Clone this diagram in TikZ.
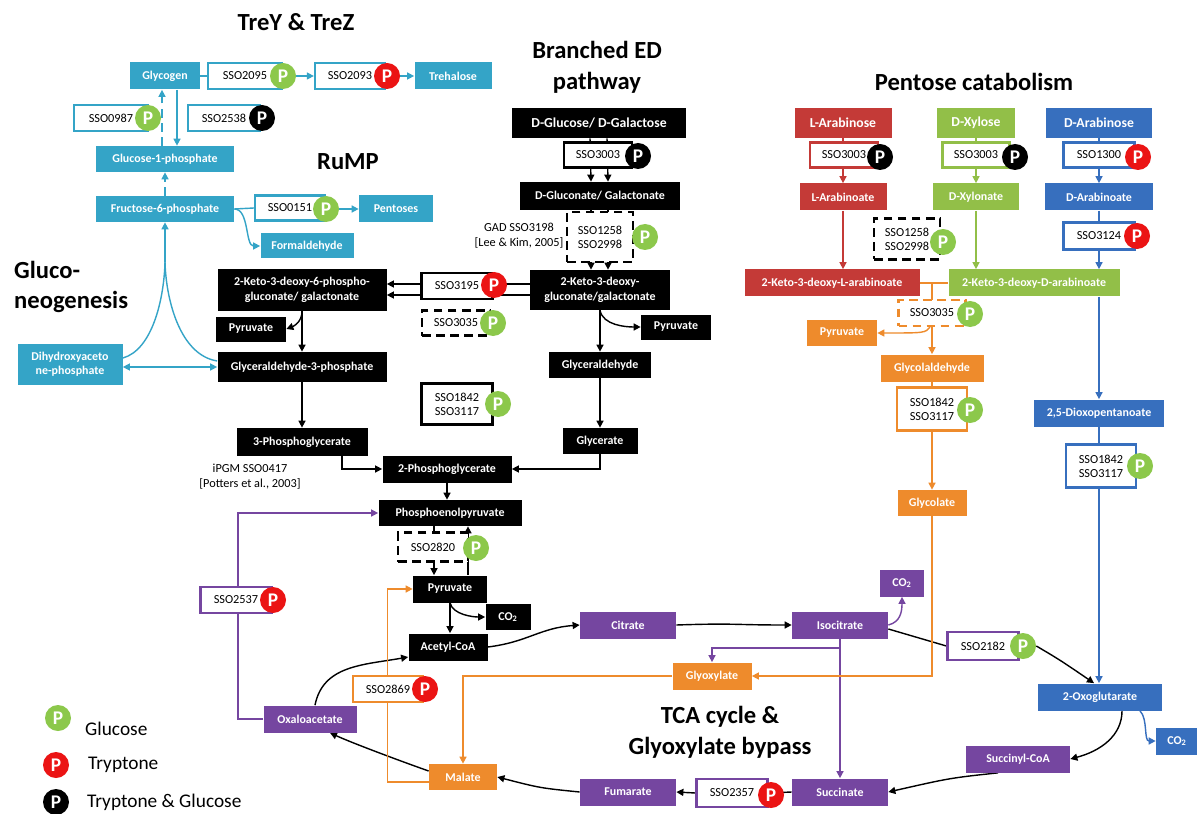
\documentclass[tikz,border=0pt]{standalone}
\usepackage{fontspec}
\setmainfont{Carlito}
\usetikzlibrary{calc}
\usetikzlibrary{arrows.meta}
\usetikzlibrary{backgrounds}

\definecolor{cTeal}{RGB}{52,164,199}
\definecolor{cRed}{RGB}{196,58,55}
\definecolor{cGreen}{RGB}{146,191,72}
\definecolor{cBlue}{RGB}{55,111,190}
\definecolor{cOrange}{RGB}{238,139,44}
\definecolor{cPurple}{RGB}{117,70,160}
\definecolor{cPgreen}{RGB}{140,200,75}
\definecolor{cPred}{RGB}{235,20,20}

\tikzset{
  bw/.style={minimum width=#1*0.2mm},
  bh/.style={minimum height=#1*0.2mm},
  box/.style={rectangle, text=white, font=\bfseries\fontsize{6.8}{8.5}\selectfont,
    align=center, inner sep=1pt, minimum height=27*0.2mm},
  big/.style={font=\bfseries\fontsize{7.8}{9}\selectfont},
  tealbox/.style={box, fill=cTeal},
  blackbox/.style={box, fill=black},
  redbox/.style={box, fill=cRed},
  greenbox/.style={box, fill=cGreen},
  bluebox/.style={box, fill=cBlue},
  orangebox/.style={box, fill=cOrange},
  purplebox/.style={box, fill=cPurple},
  enzbox/.style={rectangle, draw=black, fill=white, line width=1.3pt,
    font=\fontsize{7}{8}\selectfont, align=center, inner sep=1pt,
    minimum height=26*0.2mm},
  dbox/.style={dash pattern=on 5pt off 3pt},
  pcirc/.style={circle, text=white, font=\bfseries\fontsize{11}{11}\selectfont,
    inner sep=0pt, minimum size=5.2mm},
  pglc/.style={pcirc, fill=cPgreen},
  ptry/.style={pcirc, fill=cPred},
  pboth/.style={pcirc, fill=black},
  ttl/.style={font=\bfseries\fontsize{14}{17.5}\selectfont, align=center},
  note/.style={font=\fontsize{7}{8.5}\selectfont, align=center},
  legtxt/.style={font=\fontsize{11}{13}\selectfont, anchor=west},
  arr/.style={-{Triangle[length=4pt,width=4pt]}},
  dbl/.style={{Triangle[length=4pt,width=4pt]}-{Triangle[length=4pt,width=4pt]}},
  conn/.style={line width=0.8pt},
  tealline/.style={conn, draw=cTeal},
  blackline/.style={conn, draw=black},
  redline/.style={conn, draw=cRed},
  greenline/.style={conn, draw=cGreen},
  blueline/.style={conn, draw=cBlue},
  orangeline/.style={conn, draw=cOrange},
  purpleline/.style={conn, draw=cPurple},
}

\begin{document}
\begin{tikzpicture}[x=0.2mm, y=-0.2mm]
  \useasboundingbox (0,0) rectangle (1197,814);

  % titles
  \node[ttl] (tTre) at (296,22) {TreY \& TreZ};
  \node[ttl] (tED) at (597,67) {Branched ED\\pathway};
  \node[ttl] (tPen) at (974,82) {Pentose catabolism};
  \node[ttl] (tRuMP) at (348,162) {RuMP};
  \node[ttl, align=left, anchor=west] (tGluc) at (8,287) {Gluco-\\neogenesis};
  \node[ttl] (tTCA) at (720,732) {TCA cycle \&\\Glyoxylate bypass};

  % glycogen, trehalose, RuMP (teal)
  \node[tealbox, bw=70] (glycogen) at (165,76) {Glycogen};
  \node[enzbox, draw=cTeal, bw=74] (e2095) at (245,76) {SSO2095};
  \node[pglc] (p2095) at (283,76) {P};
  \node[enzbox, draw=cTeal, bw=70] (e2093) at (350,76) {SSO2093};
  \node[ptry] (p2093) at (387,76) {P};
  \node[tealbox, bw=77] (trehalose) at (453,76) {Trehalose};
  \node[enzbox, draw=cTeal, bw=74] (e0987) at (111,118) {SSO0987};
  \node[pglc] (p0987) at (148,118) {P};
  \node[enzbox, draw=cTeal, bw=72] (e2538) at (224,118) {SSO2538};
  \node[pboth] (p2538) at (262,118) {P};
  \node[tealbox, bw=138, bh=26] (g1p) at (165,159) {Glucose-1-phosphate};
  \node[tealbox, bw=138, bh=26] (f6p) at (165,209) {Fructose-6-phosphate};
  \node[enzbox, draw=cTeal, bw=70, bh=25] (e0151) at (290,208) {SSO0151};
  \node[pglc] (p0151) at (326,209) {P};
  \node[tealbox, bw=74] (pentoses) at (396,209) {Pentoses};
  \node[tealbox, bw=93, bh=25] (formald) at (307,246) {Formaldehyde};
  \node[tealbox, bw=105, bh=41, font=\bfseries\fontsize{6.8}{8}\selectfont] (dhap) at (70,364) {Dihydroxyaceto\\ne-phosphate};

  % branched ED pathway (black)
  \node[blackbox, big, bw=174, bh=30] (dglc) at (599,123) {D-Glucose/ D-Galactose};
  \node[enzbox, bw=68, bh=25] (e3003a) at (598,155) {SSO3003};
  \node[pboth] (p3003a) at (638,156) {P};
  \node[blackbox, bw=160, bh=28] (dglcn) at (600,196) {D-Gluconate/ Galactonate};
  \node[enzbox, dbox, bw=66, bh=50] (e1258a) at (600,237) {SSO1258\\SSO2998};
  \node[pglc] (p1258a) at (645,237) {P};
  \node[note] (gad) at (519,236) {GAD SSO3198\\{[Lee \& Kim, 2005]}};
  \node[blackbox, bw=140, bh=40] (kdg) at (600,290) {2-Keto-3-deoxy-\\gluconate/galactonate};
  \node[enzbox, bw=71] (e3195) at (457,286) {SSO3195};
  \node[ptry] (p3195) at (494,285) {P};
  \node[enzbox, dbox, bw=68, bh=25] (e3035a) at (456,323) {SSO3035};
  \node[pglc] (p3035a) at (493,323) {P};
  \node[blackbox, bw=169, bh=42] (kdpg) at (302,290) {2-Keto-3-deoxy-6-phospho-\\gluconate/ galactonate};
  \node[blackbox, bw=70, bh=25] (pyrA) at (251,329) {Pyruvate};
  \node[blackbox, bw=169, bh=30] (gap) at (302,367) {Glyceraldehyde-3-phosphate};
  \node[enzbox, bw=71, bh=41] (e1842a) at (457,404) {SSO1842\\SSO3117};
  \node[pglc] (p1842a) at (498,404) {P};
  \node[blackbox, bw=70, bh=25] (pyrB) at (676,327) {Pyruvate};
  \node[blackbox, bw=102, bh=26] (glyald) at (600,365) {Glyceraldehyde};
  \node[blackbox, bw=75, bh=26] (glycerate) at (600,441) {Glycerate};
  \node[blackbox, bw=131, bh=28] (pg3) at (302,442) {3-Phosphoglycerate};
  \node[note] (ipgm) at (250,477) {iPGM SSO0417\\{[Potters et al., 2003]}};
  \node[blackbox, bw=129] (pg2) at (447,469) {2-Phosphoglycerate};
  \node[blackbox, bw=143, bh=26] (pep) at (450,513) {Phosphoenolpyruvate};
  \node[enzbox, dbox, bw=70, bh=29] (e2820) at (433,547) {SSO2820};
  \node[pglc] (p2820) at (476,548) {P};
  \node[blackbox, bw=74] (pyrC) at (450,589) {Pyruvate};
  \node[blackbox, bw=45, bh=26] (co2a) at (508,617) {CO\textsubscript{2}};
  \node[blackbox, bw=79] (acoa) at (448,647) {Acetyl-CoA};

  % TCA cycle and glyoxylate bypass
  \node[purplebox, bw=96] (citrate) at (628,625) {Citrate};
  \node[purplebox, bw=96] (isocit) at (840,625) {Isocitrate};
  \node[purplebox, bw=44] (co2b) at (902,583) {CO\textsubscript{2}};
  \node[enzbox, draw=cPurple, bw=71, bh=28] (e2182) at (983,646) {SSO2182};
  \node[pglc] (p2182) at (1023,646) {P};
  \node[bluebox, bw=124] (oxoglu) at (1100,697) {2-Oxoglutarate};
  \node[bluebox, bw=42] (co2c) at (1177,741) {CO\textsubscript{2}};
  \node[purplebox, bw=104] (succoa) at (1018,759) {Succinyl-CoA};
  \node[purplebox, bw=96] (succ) at (840,792) {Succinate};
  \node[enzbox, draw=cPurple, bw=71, bh=28] (e2357) at (732,793) {SSO2357};
  \node[ptry] (p2357) at (771,795) {P};
  \node[purplebox, bw=96] (fum) at (628,792) {Fumarate};
  \node[orangebox, bw=68, bh=26] (malate) at (463,777) {Malate};
  \node[purplebox, bw=93] (oaa) at (310,719) {Oxaloacetate};
  \node[enzbox, draw=cPurple, bw=71] (e2537) at (236,600) {SSO2537};
  \node[ptry] (p2537) at (273,600) {P};
  \node[enzbox, draw=cOrange, bw=70] (e2869) at (388,689) {SSO2869};
  \node[ptry] (p2869) at (425,689) {P};
  \node[orangebox, bw=79] (glyox) at (712,676) {Glyoxylate};

  % pentose catabolism
  \node[redbox, big, bw=97, bh=30] (larab) at (843,123) {L-Arabinose};
  \node[enzbox, draw=cRed, bw=68, bh=25] (e3003b) at (844,155) {SSO3003};
  \node[pboth] (p3003b) at (880,157) {P};
  \node[redbox, bw=87] (larabt) at (843,197) {L-Arabinoate};
  \node[redbox, bw=175] (kdla) at (832,283) {2-Keto-3-deoxy-L-arabinoate};
  \node[greenbox, big, bw=78, bh=30] (dxyl) at (976,123) {D-Xylose};
  \node[enzbox, draw=cGreen, bw=67, bh=25] (e3003c) at (976,155) {SSO3003};
  \node[pboth] (p3003c) at (1015,157) {P};
  \node[greenbox, bw=86] (dxylt) at (976,197) {D-Xylonate};
  \node[enzbox, dbox, bw=66, bh=41] (e1258b) at (907,239) {SSO1258\\SSO2998};
  \node[pglc] (p1258b) at (943,242) {P};
  \node[greenbox, bw=171] (kdda) at (1034,283) {2-Keto-3-deoxy-D-arabinoate};
  \node[bluebox, big, bw=106, bh=30] (darab) at (1099,123) {D-Arabinose};
  \node[enzbox, draw=cBlue, bw=71, bh=25] (e1300) at (1099,155) {SSO1300};
  \node[ptry] (p1300) at (1138,157) {P};
  \node[bluebox, bw=108] (darabt) at (1099,197) {D-Arabinoate};
  \node[enzbox, draw=cBlue, bw=71, bh=27] (e3124) at (1099,236) {SSO3124};
  \node[ptry] (p3124) at (1137,236) {P};
  \node[bluebox, bw=130] (dioxo) at (1099,413) {2,5-Dioxopentanoate};
  \node[enzbox, draw=cBlue, bw=70, bh=43] (e1842c) at (1101,466) {SSO1842\\SSO3117};
  \node[pglc] (p1842c) at (1140,466) {P};
  \node[orangebox, bw=70, bh=26] (pyrD) at (842,333) {Pyruvate};
  \node[enzbox, dbox, draw=cOrange, bw=67, bh=26] (e3035b) at (932,313) {SSO3035};
  \node[pglc] (p3035b) at (970,314) {P};
  \node[orangebox, bw=103] (glyald2) at (932,368) {Glycolaldehyde};
  \node[enzbox, draw=cOrange, bw=70, bh=43] (e1842b) at (932,409) {SSO1842\\SSO3117};
  \node[pglc] (p1842b) at (970,410) {P};
  \node[orangebox, bw=69, bh=26] (glycol) at (932,503) {Glycolate};

  % legend
  \node[pglc] (lgp1) at (58,718) {P};
  \node[legtxt] (lgt1) at (79,729) {Glucose};
  \node[ptry] (lgp2) at (56,765) {P};
  \node[legtxt] (lgt2) at (82,765) {Tryptone};
  \node[pboth] (lgp3) at (56,802) {P};
  \node[legtxt] (lgt3) at (81,802) {Tryptone \& Glucose};

  \coordinate (cusp) at (165,262);

  \begin{scope}[on background layer]
    \fill[white] (0,0) rectangle (1197,814);
    % teal
    \draw[tealline] (glycogen) -- (e2095);
    \draw[tealline, arr] (p2095) -- (e2093);
    \draw[tealline, arr] (p2093) -- (trehalose);
    \draw[tealline, arr, dbox] ($(g1p.north)+(-3,0)$) -- ($(glycogen.south)+(-3,0)$);
    \draw[tealline, arr] ($(glycogen.south)+(12,0)$) -- ($(g1p.north)+(12,0)$);
    \draw[tealline, arr, dbox] (f6p) -- (g1p);
    \draw[tealline] (f6p.east) -- (e0151.west);
    \draw[tealline, arr] (p0151) -- (pentoses);
    \draw[tealline, arr] (f6p.east) .. controls +(15,0) and +(-15,0) .. (formald.west);
    \draw[tealline, dbl] (dhap.east |- gap.west) -- (gap.west);
    \draw[tealline] ($(dhap.east)+(0,-6)$) .. controls (152,350) and (164,300) .. (cusp);
    \draw[tealline] ($(gap.west)+(0,-6)$) .. controls (180,355) and (166,300) .. (cusp);
    \draw[tealline, arr] (cusp) -- (f6p.south);

    % black
    \draw[blackline, arr] ($(dglc.south)+(-9,0)$) -- ($(dglcn.north)+(-9,0)$);
    \draw[blackline, arr] ($(dglc.south)+(8,0)$) -- ($(dglcn.north)+(8,0)$);
    \draw[blackline, arr] ($(dglcn.south)+(-9,0)$) -- ($(kdg.north)+(-9,0)$);
    \draw[blackline, arr] ($(dglcn.south)+(8,0)$) -- ($(kdg.north)+(8,0)$);
    \draw[blackline, arr] ($(kdg.west)+(0,-6)$) -- ($(kdpg.east)+(0,-6)$);
    \draw[blackline, arr] ($(kdg.west)+(0,5)$) -- ($(kdpg.east)+(0,5)$);
    \draw[blackline, arr] (kdpg) -- (gap);
    \draw[blackline, arr] (kdpg.south) .. controls +(0,10) and +(8,-3) .. (pyrA.east);
    \draw[blackline, arr] (kdg.south) .. controls +(3,15) and +(-15,0) .. (pyrB.west);
    \draw[blackline, arr] (kdg) -- (glyald);
    \draw[blackline, arr] (glyald) -- (glycerate);
    \draw[blackline, arr] (gap) -- (pg3);
    \draw[blackline, arr] ($(pg3.south)+(40,0)$) |- (pg2.west);
    \draw[blackline, arr] (glycerate.south) |- (pg2.east);
    \draw[blackline, arr] (pg2.south) -- (pg2.south |- pep.north);
    \draw[blackline, arr] ($(pep.south)+(-16,0)$) -- ($(pyrC.north)+(-16,0)$);
    \draw[blackline, arr] ($(pyrC.north)+(18,0)$) -- ($(pep.south)+(18,0)$);
    \draw[blackline, arr] (pyrC.south) -- (pyrC.south |- acoa.north);
    \draw[blackline, arr] (pyrC.south) .. controls +(3,12) and +(-12,0) .. (co2a.west);

    % TCA cycle
    \draw[blackline, arr] (acoa.east) .. controls +(40,-5) and +(-40,3) .. (citrate.west);
    \draw[blackline, arr] (citrate.east) .. controls +(60,-2) and +(-60,0) .. (isocit.west);
    \draw[purpleline, arr] (isocit.east) .. controls +(12,-3) and +(0,15) .. (co2b.south);
    \draw[blackline] ($(isocit.east)+(0,4)$) -- (e2182.west);
    \draw[blackline, arr] (p2182.east) .. controls (1060,660) .. ($(oxoglu.north)+(-6,0)$);
    \draw[purpleline, arr] (isocit.south) -- ++(0,9) -| (glyox.north);
    \draw[purpleline, arr] (isocit.south) -- (isocit.south |- succ.north);
    \draw[blackline, arr] ($(oxoglu.south)+(22,0)$) .. controls +(0,25) and +(30,-8) .. (succoa.east);
    \draw[blueline, arr] ($(oxoglu.south)+(40,0)$) .. controls +(8,8) and +(-12,0) .. (co2c.west);
    \draw[blackline, arr] ($(succoa.south)+(-20,0)$) .. controls (950,778) .. (succ.east);
    \draw[blackline] (succ.west) -- (e2357.east);
    \draw[blackline, arr] (e2357.west) -- (fum.east);
    \draw[blackline, arr] (fum.west) .. controls (540,788) .. (malate.east);
    \draw[blackline, arr] ($(malate.west)+(0,-6)$) .. controls (392,758) and (350,742) .. ($(oaa.south)+(20,0)$);
    \draw[blackline, arr] ($(oaa.north)+(5,0)$) .. controls +(8,-40) and +(-45,8) .. ($(acoa.west)+(0,10)$);
    \draw[purpleline, arr] (oaa.west) -- ++(-25,0) |- (pep.west);
    \draw[orangeline, arr] ($(malate.west)+(0,5)$) -- ++(-41,0) |- (pyrC.west);
    \draw[orangeline, arr] (glyox.west) -| (malate.north);
    \draw[orangeline, arr] (glycol.south) |- (glyox.east);

    % pentose catabolism
    \draw[redline, arr] (larab) -- (larabt);
    \draw[redline, arr] (larabt.south) -- (larabt.south |- kdla.north);
    \draw[greenline, arr] (dxyl) -- (dxylt);
    \draw[greenline, arr] (dxylt.south) -- (dxylt.south |- kdda.north);
    \draw[blueline, arr] (darab) -- (darabt);
    \draw[blueline, arr] (darabt.south) -- (darabt.south |- kdda.north);
    \draw[blueline, arr] (darabt.south |- kdda.south) -- (darabt.south |- dioxo.north);
    \draw[blueline, arr] (dioxo.south) -- (dioxo.south |- oxoglu.north);
    \draw[orangeline] (kdla.east) -- (kdda.west);
    \draw[orangeline, arr] (kdla.east -| glyald2.north) -- (glyald2.north);
    \draw[orangeline, arr] ($(e3035b.south)+(-2,0)$) .. controls (925,333) .. (pyrD.east);
    \draw[orangeline, arr] (glyald2) -- (glycol);
  \end{scope}
\end{tikzpicture}
\end{document}
